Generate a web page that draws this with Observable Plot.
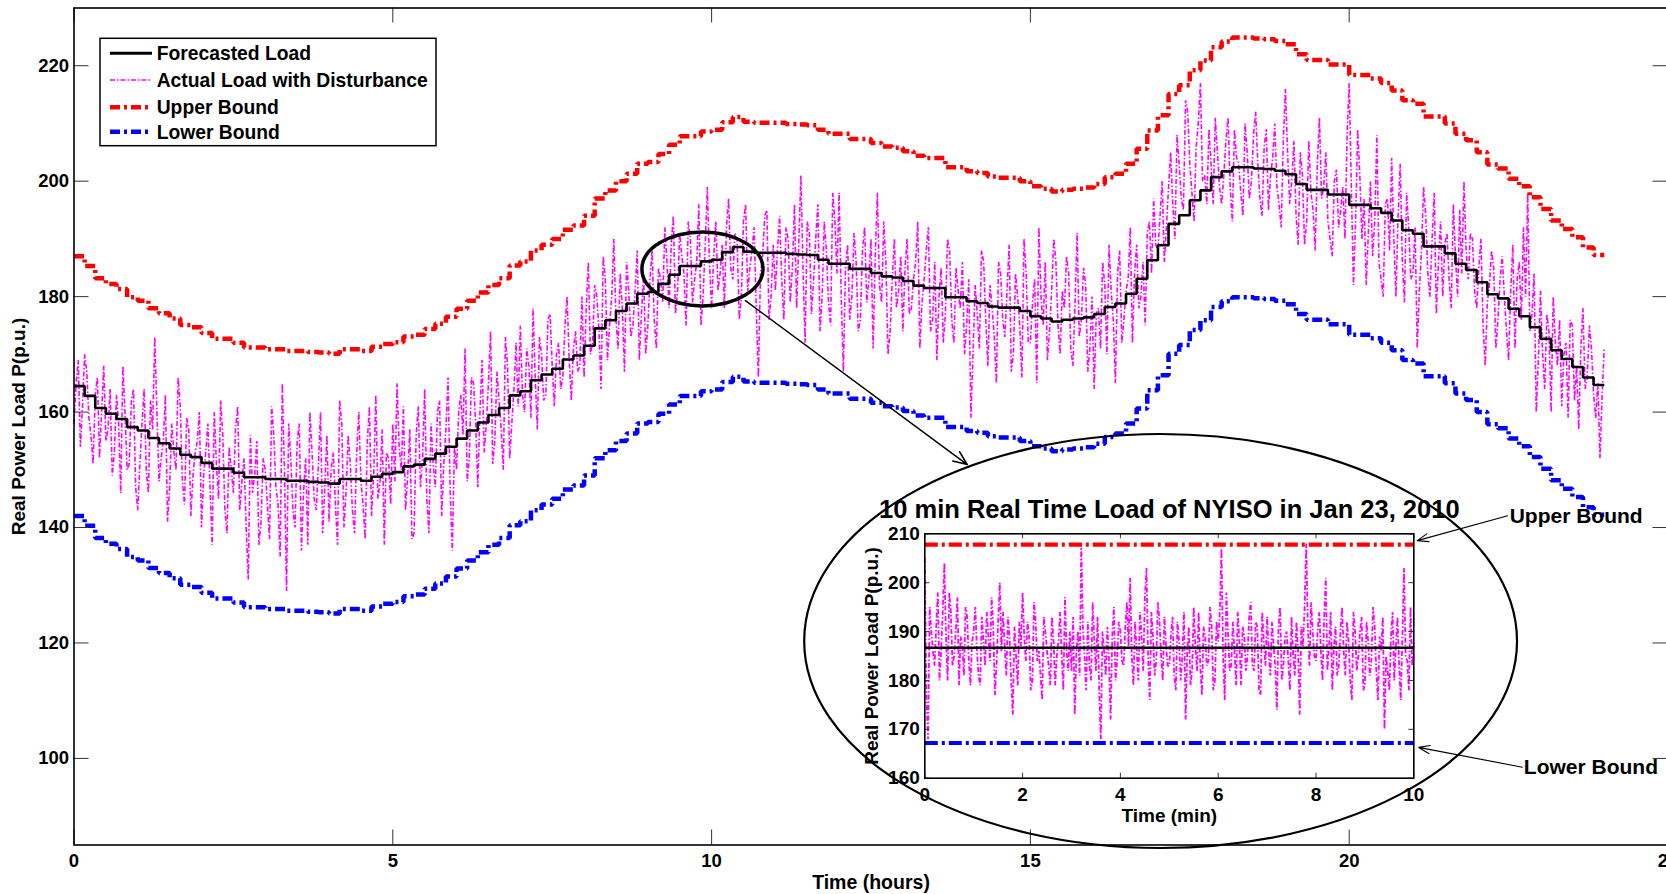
<!DOCTYPE html>
<html>
<head>
<meta charset="utf-8">
<script src="https://cdn.jsdelivr.net/npm/d3@7"></script>
<script src="https://cdn.jsdelivr.net/npm/@observablehq/plot@0.6"></script>
<style>
  body { margin: 0; background: #fff; }
  #wrap { position: relative; width: 1666px; height: 894px; overflow: hidden; background: #fff; }
  #wrap > svg { position: absolute; left: 0; top: 0; }
</style>
</head>
<body>
<div id="wrap"></div>
<script>
// ---------------- DATA ----------------
// Forecasted load, one value per 10-minute interval (hours 0..24)
const forecastLoad = [
  164.5,162.8,160.7,159.7,158.8,157.4, 156.8,155.5,154.6,153.7,152.6,152.2,
  151.2,150.2,150.2,149.5,148.7,148.7, 148.4,148.4,148.1,148.1,147.9,147.8,
  147.6,148.4,148.4,148.1,148.8,149.3, 149.6,150.6,150.9,151.9,152.8,154.0,
  155.4,156.8,158.2,159.5,160.7,162.9, 163.6,165.5,166.5,167.5,169.1,169.8,
  171.5,174.5,175.9,177.5,178.8,180.5, 180.8,182.2,183.8,185.3,185.3,186.1,
  186.4,187.7,188.6,187.8,187.6,187.6, 187.6,187.4,187.3,187.2,186.4,185.7,
  185.7,184.8,184.8,184.1,183.5,183.3, 182.7,181.9,181.5,181.5,179.9,179.9,
  179.2,178.9,178.3,178.1,178.1,177.5, 176.6,176.2,175.7,176.0,176.2,176.4,
  177.0,178.2,178.8,180.5,183.1,186.3, 188.9,192.6,194.1,196.7,198.4,200.7,
  201.7,202.4,202.4,202.2,202.1,201.8, 201.2,199.5,198.5,198.5,197.7,197.7,
  195.9,195.9,195.3,194.5,193.2,191.5, 190.9,188.7,188.7,187.5,185.7,184.6,
  182.5,180.4,179.7,177.9,176.6,174.7, 172.7,170.7,169.2,167.8,166.0,164.7
];
const upperBound = [
  187.0,185.3,183.2,182.2,181.3,179.9, 179.3,178.0,177.1,176.2,175.1,174.7,
  173.7,172.7,172.7,172.0,171.2,171.2, 170.9,170.9,170.6,170.6,170.4,170.3,
  170.1,170.9,170.9,170.6,171.3,171.8, 172.1,173.1,173.4,174.4,175.3,176.5,
  177.9,179.3,180.7,182.0,183.2,185.4, 186.1,188.0,189.0,190.0,191.6,192.3,
  194.0,197.0,198.4,200.0,201.3,203.0, 203.3,204.7,206.3,207.8,207.8,208.6,
  208.9,210.2,211.1,210.3,210.1,210.1, 210.1,209.9,209.8,209.7,208.9,208.2,
  208.2,207.3,207.3,206.6,206.0,205.8, 205.2,204.4,204.0,204.0,202.4,202.4,
  201.7,201.4,200.8,200.6,200.6,200.0, 199.1,198.7,198.2,198.5,198.7,198.9,
  199.5,200.7,201.3,203.0,205.6,208.8, 211.4,215.1,216.6,219.2,220.9,223.2,
  224.2,224.9,224.9,224.7,224.6,224.3, 223.7,222.0,221.0,221.0,220.2,220.2,
  218.4,218.4,217.8,217.0,215.7,214.0, 213.4,211.2,211.2,210.0,208.2,207.1,
  205.0,202.9,202.2,200.4,199.1,197.2, 195.2,193.2,191.7,190.3,188.5,187.2
];
const lowerBound = [
  142.0,140.3,138.2,137.2,136.3,134.9, 134.3,133.0,132.1,131.2,130.1,129.7,
  128.7,127.7,127.7,127.0,126.2,126.2, 125.9,125.9,125.6,125.6,125.4,125.3,
  125.1,125.9,125.9,125.6,126.3,126.8, 127.1,128.1,128.4,129.4,130.3,131.5,
  132.9,134.3,135.7,137.0,138.2,140.4, 141.1,143.0,144.0,145.0,146.6,147.3,
  149.0,152.0,153.4,155.0,156.3,158.0, 158.3,159.7,161.3,162.8,162.8,163.6,
  163.9,165.2,166.1,165.3,165.1,165.1, 165.1,164.9,164.8,164.7,163.9,163.2,
  163.2,162.3,162.3,161.6,161.0,160.8, 160.2,159.4,159.0,159.0,157.4,157.4,
  156.7,156.4,155.8,155.6,155.6,155.0, 154.1,153.7,153.2,153.5,153.7,153.9,
  154.5,155.7,156.3,158.0,160.6,163.8, 166.4,170.1,171.6,174.2,175.9,178.2,
  179.2,179.9,179.9,179.7,179.6,179.3, 178.7,177.0,176.0,176.0,175.2,175.2,
  173.4,173.4,172.8,172.0,170.7,169.0, 168.4,166.2,166.2,165.0,163.2,162.1,
  160.0,157.9,157.2,155.4,154.1,152.2, 150.2,148.2,146.7,145.3,143.5,142.2
];
// Actual load with disturbance: samples every 4 minutes (on the 4-min marks) ...
const actualLoad = [
  158,169,161,167,156,163,152,168,157,149,163,146,160,151,164,
  143,158,150,162,173,148,155,141,158,150,161,144,157,149,155,
  140,153,147,160,145,156,139,150,157,143,152,131,146,155,141,
  150,138,156,144,165,129,152,140,158,146,137,153,143,160,147,
  141,153,137,158,146,151,139,160,144,155,142,163,148,137,152,
  158,165,150,143,157,139,161,152,145,158,147,162,151,166,136,
  150,163,171,152,165,147,169,158,174,155,162,150,168,158,172,
  175,160,168,178,157,170,163,177,161,172,166,180,162,174,168,
  166,186,172,180,164,183,175,190,171,178,186,173,181,169,184,
  175,188,171,183,192,178,194,181,187,175,190,183,196,180,199,
  178,193,184,178,197,183,190,180,196,185,192,166,187,195,180,
  181,194,176,190,185,178,201,172,191,183,196,180,188,175,193,
  198,167,189,180,186,176,192,183,171,198,179,186,174,190,181,
  174,190,178,186,171,183,192,176,169,185,177,188,172,181,186,
  175,159,182,171,186,168,178,165,184,173,189,170,180,166,184,
  172,183,192,175,169,181,186,170,178,184,168,191,176,182,171,
  164,178,186,170,181,165,188,176,183,172,189,180,175,193,197,
  188,200,192,205,190,203,195,212,198,206,217,201,209,196,205,
  196,207,199,209,203,194,205,200,212,197,206,195,204,199,192,
  216,196,207,189,201,193,198,188,211,199,193,187,202,195,190,
  217,182,209,190,182,200,193,186,180,197,204,180,203,179,192,
  184,171,188,194,180,198,186,180,191,178,187,195,200,183,190,
  178,190,168,182,185,176,187,174,181,171,186,192,198,177,160,
  181,164,174,180,168,161,172,176,162,157,178,166,171,159,152,
  171
];
// ... and the samples 2 minutes after each of those marks
const actualLoadOffset = [
  165,154,170,159,151,166,160,155,164,153,158,168,150,162,147,
  151,164,146,157,160,152,163,147,153,166,148,159,142,153,160,
  149,158,137,151,162,143,154,146,161,148,140,156,149,137,152,
  144,161,147,135,150,158,143,155,136,152,160,145,151,139,156,
  150,144,162,140,156,143,153,148,138,161,149,145,157,153,144,
  148,154,161,149,138,156,147,164,139,151,160,142,157,146,154,
  160,156,148,166,158,160,153,165,151,167,157,173,152,164,161,
  163,171,159,166,173,162,176,168,170,164,175,169,171,167,180,
  178,170,182,174,187,169,180,176,184,167,181,175,188,177,170,
  183,176,185,179,186,189,177,191,184,193,179,186,175,189,186,
  187,181,189,192,185,191,176,193,181,188,178,184,194,176,189,
  188,183,192,179,196,189,185,193,177,190,174,193,179,198,184,
  180,185,176,191,174,188,179,190,187,182,193,170,183,178,187,
  185,177,183,193,179,188,174,186,180,172,190,176,185,178,170,
  183,170,177,188,176,182,173,186,176,181,167,184,175,190,172,
  179,165,180,186,174,190,175,181,187,171,179,173,185,167,180,
  177,171,182,189,176,184,172,181,192,184,178,186,191,184,189,
  194,186,199,196,208,197,214,203,193,210,200,196,203,211,199,
  201,211,193,204,198,210,197,208,203,194,209,201,210,196,207,
  205,200,194,205,189,207,195,203,197,205,190,200,192,199,208,
  199,193,201,197,191,187,208,183,196,188,190,194,186,198,183,
  192,181,199,184,190,177,193,189,183,196,180,184,188,191,181,
  185,175,179,188,171,183,180,169,189,183,176,180,174,184,169,
  170,177,160,172,176,170,159,175,168,171,164,175,163,165,163
];
// Inset: 10 min real time load, samples every 4 seconds ...
const insetActual = [
  205,168,190,183,198,186,204,180,194,185,197,189,181,193,179,
  190,186,179,188,194,184,191,183,200,194,181,189,173,185,192,
  198,184,189,180,192,186,176,190,183,193,179,188,185,197,182,
  182,173,190,208,185,192,180,188,193,168,186,191,172,195,184,
  190,183,196,201,179,186,194,182,203,176,189,184,192,180,187,
  183,193,178,188,185,172,191,182,187,194,177,189,184,191,180,
  188,207,176,190,183,186,194,179,189,185,196,182,191,177,188,
  193,181,187,174,195,183,190,178,185,192,173,187,208,183,190,
  184,194,180,201,187,178,191,183,195,181,188,176,190,185,193,
  179,188,184,191,176,186,170,182,189,180,193,176,203,184,195,
  188
];
// ... and 2 seconds after each of those
const insetActualOffset = [
  176,195,186,191,180,194,189,198,183,190,179,187,195,184,188,
  195,181,193,183,189,197,177,192,186,187,193,180,191,179,187,
  189,192,178,196,184,181,193,186,179,188,185,194,178,186,190,
  193,186,181,191,178,183,196,182,178,190,181,184,189,180,192,
  184,191,187,185,192,180,189,197,185,194,181,196,185,193,183,
  189,181,192,180,194,186,179,195,182,183,191,183,195,178,192,
  194,185,198,182,192,179,188,191,182,193,183,192,178,194,183,
  186,192,183,191,180,189,184,193,181,186,191,195,191,196,185,
  190,186,193,182,194,187,181,190,186,192,180,194,182,190,178,
  192,181,195,182,189,193,185,178,194,187,183,189,185,178,183
];
const insetForecast = 186.7, insetUpper = 207.8, insetLower = 167.2;

const forecastStepHours = 1 / 6;
const actualStepHours = 1 / 15;
const insetStepMin = 1 / 15;

const xTicksMain = [0, 5, 10, 15, 20, 25];
const yTicksMain = [100, 120, 140, 160, 180, 200, 220];
const xTicksInset = [0, 2, 4, 6, 8, 10];
const yTicksInset = [160, 170, 180, 190, 200, 210];

const legendLabels = ["Forecasted Load", "Actual Load with Disturbance", "Upper Bound", "Lower Bound"];
const insetTitle = "10 min Real Time Load of NYISO in Jan 23, 2010";

// annotation geometry in data units
const zoomCircle = {t: 9.865, p: 184.7, rt: 0.95, rp: 6.4};
const insetCircle = {t: 17.05, p: 120.25, rt: 5.59, rp: 35.86};
const zoomArrow = [{x1: 10.53, y1: 179.3, x2: 14.01, y2: 150.9}];
const boundArrows = [
  {x1: 11.92, y1: 213.7, x2: 10.07, y2: 208.6},
  {x1: 12.22, y1: 162.25, x2: 10.10, y2: 166.3}
];
const boundNotes = [
  {x: 11.96, y: 213.5, text: "Upper Bound"},
  {x: 12.25, y: 162.2, text: "Lower Bound"}
];

// ---------------- BUILD ----------------
const FONT = "'Liberation Sans', Arial, Helvetica, sans-serif";
const RED = "#ff0000", BLUE = "#0000ff", MAGENTA = "#ff00ff";
const boundDash = "10,4,3,4";
const actualDash = "5,2,1.5,2";

const stepRows = arr => arr.map((v, i) => ({t: i * forecastStepHours, v}))
  .concat([{t: arr.length * forecastStepHours, v: arr[arr.length - 1]}]);
function interleave(a, b, step) {
  const rows = [];
  a.forEach((v, i) => {
    rows.push({t: i * step, v});
    if (i < b.length) rows.push({t: (i + 0.5) * step, v: b[i]});
  });
  return rows;
}
const actualRows = interleave(actualLoad, actualLoadOffset, actualStepHours);
const insetRows = interleave(insetActual, insetActualOffset, insetStepMin);
const constRows = v => [{t: 0, v}, {t: 10, v}];

function ellipseMark(e, sw) {
  return (index, scales) => {
    const {x, y} = scales;
    const cx = x(e.t), cy = y(e.p);
    const rx = Math.abs(x(e.t + e.rt) - cx), ry = Math.abs(cy - y(e.p + e.rp));
    const el = document.createElementNS("http://www.w3.org/2000/svg", "ellipse");
    el.setAttribute("cx", cx); el.setAttribute("cy", cy);
    el.setAttribute("rx", rx); el.setAttribute("ry", ry);
    el.setAttribute("fill", "none"); el.setAttribute("stroke", "#000");
    el.setAttribute("stroke-width", sw);
    return el;
  };
}

// main chart geometry
const W = 1666, H = 894;
const mL = 73.5, mR = -1.5, mT = 7.5, mB = 49.5;
const frameW = W - mL - mR, frameH = H - mT - mB;
const tickLen = 15;

const main = Plot.plot({
  width: W, height: H,
  marginLeft: mL, marginRight: mR, marginTop: mT, marginBottom: mB,
  x: {domain: [0, 25], range: [mL, W - mR]},
  y: {domain: [85, 230], range: [H - mB, mT]},
  style: {fontFamily: FONT, background: "white"},
  marks: [
    Plot.line(actualRows, {x: "t", y: "v", stroke: MAGENTA, strokeWidth: 1.6, strokeDasharray: actualDash, strokeLinecap: "butt", strokeLinejoin: "miter"}),
    Plot.line(stepRows(forecastLoad), {x: "t", y: "v", curve: "step-after", stroke: "#000", strokeWidth: 2.6, strokeLinecap: "butt", strokeLinejoin: "miter"}),
    Plot.line(stepRows(upperBound), {x: "t", y: "v", curve: "step-after", stroke: RED, strokeWidth: 4.5, strokeDasharray: boundDash, strokeLinecap: "butt", strokeLinejoin: "miter"}),
    Plot.line(stepRows(lowerBound), {x: "t", y: "v", curve: "step-after", stroke: BLUE, strokeWidth: 4.5, strokeDasharray: boundDash, strokeLinecap: "butt", strokeLinejoin: "miter"}),
    Plot.tickY(yTicksMain, {y: d => d, stroke: "#333", strokeWidth: 1, insetRight: frameW - tickLen}),
    Plot.tickY(yTicksMain, {y: d => d, stroke: "#333", strokeWidth: 1, insetLeft: frameW - tickLen}),
    Plot.tickX(xTicksMain, {x: d => d, stroke: "#333", strokeWidth: 1, insetBottom: frameH - tickLen}),
    Plot.tickX(xTicksMain, {x: d => d, stroke: "#333", strokeWidth: 1, insetTop: frameH - tickLen}),
    Plot.frame({stroke: "#000", strokeWidth: 1.6}),
    Plot.axisX({ticks: xTicksMain, tickSize: 0, tickPadding: 9, fontSize: 18.5, fontWeight: "bold", label: null}),
    Plot.axisY({ticks: yTicksMain, tickSize: 0, tickPadding: 5, fontSize: 18.5, fontWeight: "bold", label: null}),
    Plot.text(["Time (hours)"], {frameAnchor: "bottom", dy: 37.4, lineAnchor: "middle", fontSize: 19.5, fontWeight: "bold"}),
    Plot.text(["Real Power Load P(p.u.)"], {frameAnchor: "left", dx: -55.4, rotate: -90, textAnchor: "middle", lineAnchor: "middle", fontSize: 19, fontWeight: "bold"}),
    ellipseMark(zoomCircle, 3.5),
    ellipseMark(insetCircle, 2.2),
    Plot.arrow(zoomArrow, {x1: "x1", y1: "y1", x2: "x2", y2: "y2", stroke: "#000", strokeWidth: 1.5, headLength: 15, headAngle: 45})
  ]
});

// inset chart geometry
const iL = 924.3, iR = 1413.3, iT = 533.3, iB = 777.7;
const iFrameW = iR - iL, iFrameH = iB - iT, iTick = 5;
const inset = Plot.plot({
  width: W, height: H,
  marginLeft: iL, marginRight: W - iR, marginTop: iT, marginBottom: H - iB,
  x: {domain: [0, 10]},
  y: {domain: [160, 210]},
  style: {fontFamily: FONT, background: "transparent"},
  marks: [
    Plot.frame({fill: "white", stroke: "none"}),
    Plot.line(insetRows, {x: "t", y: "v", stroke: MAGENTA, strokeWidth: 1.8, strokeDasharray: actualDash, strokeLinecap: "butt", strokeLinejoin: "miter"}),
    Plot.line(constRows(insetForecast), {x: "t", y: "v", stroke: "#000", strokeWidth: 2.6, strokeLinecap: "butt"}),
    Plot.line(constRows(insetUpper), {x: "t", y: "v", stroke: RED, strokeWidth: 4.2, strokeDasharray: "13,4,3,4", strokeLinecap: "butt"}),
    Plot.line(constRows(insetLower), {x: "t", y: "v", stroke: BLUE, strokeWidth: 4.2, strokeDasharray: "13,4,3,4", strokeLinecap: "butt"}),
    Plot.tickY(yTicksInset, {y: d => d, stroke: "#333", insetRight: iFrameW - iTick}),
    Plot.tickY(yTicksInset, {y: d => d, stroke: "#333", insetLeft: iFrameW - iTick}),
    Plot.tickX(xTicksInset, {x: d => d, stroke: "#333", insetBottom: iFrameH - iTick}),
    Plot.tickX(xTicksInset, {x: d => d, stroke: "#333", insetTop: iFrameH - iTick}),
    Plot.frame({stroke: "#000", strokeWidth: 1.6}),
    Plot.axisX({ticks: xTicksInset, tickSize: 0, tickPadding: 9, fontSize: 19, fontWeight: "bold", label: null}),
    Plot.axisY({ticks: yTicksInset, tickSize: 0, tickPadding: 5, fontSize: 19, fontWeight: "bold", label: null}),
    Plot.text([insetTitle], {frameAnchor: "top", dy: -24.3, lineAnchor: "middle", fontSize: 25.5, fontWeight: "bold"}),
    Plot.text(["Time (min)"], {frameAnchor: "bottom", dy: 37.3, lineAnchor: "middle", fontSize: 19, fontWeight: "bold"}),
    Plot.text(["Real Power Load P(p.u.)"], {frameAnchor: "left", dx: -52.6, rotate: -90, textAnchor: "middle", lineAnchor: "middle", fontSize: 19, fontWeight: "bold"}),
    Plot.arrow(boundArrows, {x1: "x1", y1: "y1", x2: "x2", y2: "y2", stroke: "#000", strokeWidth: 1.1, headLength: 16, headAngle: 40}),
    Plot.text(boundNotes, {x: "x", y: "y", text: "text", textAnchor: "start", fontSize: 21, fontWeight: "bold"})
  ]
});

// legend
const legendStyles = [
  {stroke: "#000", width: 3, dash: null},
  {stroke: MAGENTA, width: 1.4, dash: actualDash},
  {stroke: RED, width: 4.5, dash: boundDash},
  {stroke: BLUE, width: 4.5, dash: boundDash}
];
const rowY = [16.3, 43, 70.3, 94.7];
const leg = d3.create("svg").attr("width", 340).attr("height", 112)
  .style("left", "99px").style("top", "37px").style("position", "absolute");
leg.append("rect").attr("x", 1).attr("y", 1.3).attr("width", 336).attr("height", 107.4)
  .attr("fill", "white").attr("stroke", "#000").attr("stroke-width", 1.5);
legendLabels.forEach((label, i) => {
  const s = legendStyles[i];
  leg.append("line").attr("x1", 11).attr("x2", 53).attr("y1", rowY[i]).attr("y2", rowY[i])
    .attr("stroke", s.stroke).attr("stroke-width", s.width).attr("stroke-dasharray", s.dash);
  leg.append("text").attr("x", 57.7).attr("y", rowY[i]).attr("dy", "0.36em")
    .attr("font-family", FONT).attr("font-weight", "bold").attr("font-size", 19.3)
    .text(label);
});

const wrap = document.getElementById("wrap");
wrap.appendChild(main);
wrap.appendChild(inset);
wrap.appendChild(leg.node());
</script>
</body>
</html>
